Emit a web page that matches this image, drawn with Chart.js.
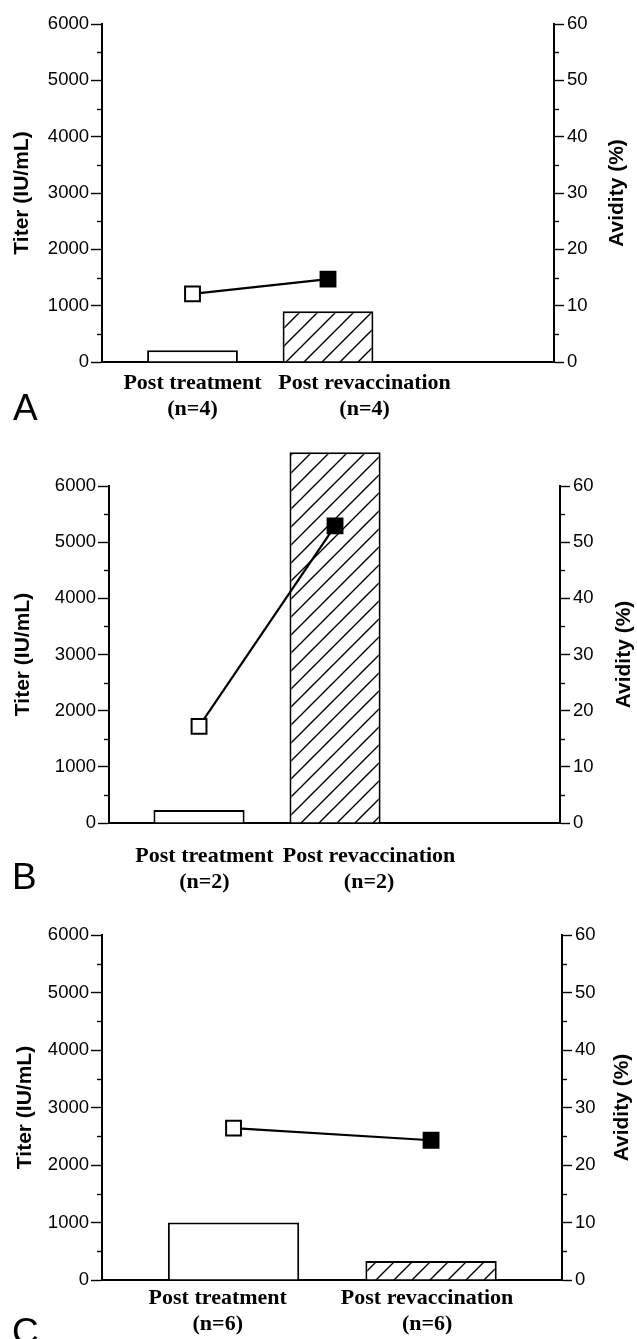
<!DOCTYPE html>
<html>
<head>
<meta charset="utf-8">
<script src="https://cdn.jsdelivr.net/npm/chart.js@4.4.0/dist/chart.umd.min.js"></script>
<style>
  html, body { margin: 0; padding: 0; background: #fff; }
  body { width: 637px; height: 1339px; position: relative; overflow: hidden; }
  .panel { position: absolute; left: 0; }
  .letter { position: absolute; font: 37px "Liberation Sans", Arial, sans-serif; line-height: 1; color: #000; }
</style>
</head>
<body>

<canvas id="chartA" class="panel" width="637" height="440" style="top:0"></canvas>
<canvas id="chartB" class="panel" width="637" height="460" style="top:440px"></canvas>
<canvas id="chartC" class="panel" width="637" height="439" style="top:900px"></canvas>

<div class="letter" style="left:13px;top:389px">A</div>
<div class="letter" style="left:12px;top:858px">B</div>
<div class="letter" style="left:12px;top:1313px">C</div>

<script>
// groups on the x axis
const groups = ['Post treatment', 'Post revaccination'];
const groupX = [1, 2];

// panel A
const nA = [4, 4];
const titerA = [210, 900];
const avidityA = [12.1, 14.7];

// panel B
const nB = [2, 2];
const titerB = [230, 6600];
const avidityB = [17.2, 52.9];

// panel C
const nC = [6, 6];
const titerC = [1000, 330];
const avidityC = [26.4, 24.3];

const titerMax = 6000, titerStep = 1000;
const avidityMax = 60, avidityStep = 10;

// diagonal hatch for the revaccination bars
function makeHatch() {
    const s = 18;
    const c = document.createElement('canvas');
    c.width = s; c.height = s;
    const g = c.getContext('2d');
    g.fillStyle = '#fff';
    g.fillRect(0, 0, s, s);
    g.strokeStyle = '#000';
    g.lineWidth = 1.4;
    g.beginPath();
    g.moveTo(0, s); g.lineTo(s, 0);
    g.moveTo(-2, 2); g.lineTo(2, -2);
    g.moveTo(s - 2, s + 2); g.lineTo(s + 2, s - 2);
    g.stroke();
    return g.createPattern(c, 'repeat');
}
const hatch = makeHatch();

// minor ticks + right-hand title (reads bottom to top)
const axisExtras = {
    id: 'axisExtras',
    afterDraw(chart, args, opts) {
        const ctx = chart.ctx;
        ctx.save();
        ctx.strokeStyle = '#000';
        ctx.lineWidth = 1.4;
        [['y', -1], ['y2', 1]].forEach(([id, dir]) => {
            const s = chart.scales[id];
            const step = s.options.ticks.stepSize;
            const x0 = dir < 0 ? s.right : s.left;
            for (let v = step / 2; v < s.max; v += step) {
                const py = Math.round(s.getPixelForValue(v)) + 0.5;
                ctx.beginPath();
                ctx.moveTo(x0, py);
                ctx.lineTo(x0 + dir * 5, py);
                ctx.stroke();
            }
        });
        const r = chart.scales.y2;
        ctx.translate(r.right - opts.titleOffset, (r.top + r.bottom) / 2);
        ctx.rotate(-Math.PI / 2);
        ctx.fillStyle = '#000';
        ctx.font = 'bold 21px "Liberation Sans", Arial, sans-serif';
        ctx.textAlign = 'center';
        ctx.textBaseline = 'middle';
        ctx.fillText('Avidity (%)', 0, 0);
        ctx.restore();
    }
};

const tickFont = { family: '"Liberation Sans", Arial, sans-serif', size: 18.5 };

function makePanel(id, titer, avidity, n, p) {
    const ctx = document.getElementById(id);
    return new Chart(ctx, {
        type: 'bar',
        data: {
            datasets: [{
                type: 'line',
                data: groupX.map((x, i) => ({ x: x, y: avidity[i] })),
                yAxisID: 'y2',
                borderColor: '#000',
                borderWidth: 2.2,
                tension: 0,
                pointStyle: 'rect',
                pointRadius: 10.5,
                pointBorderWidth: 2,
                pointBorderColor: '#000',
                pointBackgroundColor: ['#fff', '#000'],
                order: 0
            }, {
                type: 'bar',
                data: groupX.map((x, i) => ({ x: x, y: titer[i] })),
                yAxisID: 'y',
                backgroundColor: ['#fff', hatch],
                borderColor: '#000',
                borderWidth: 2,
                categoryPercentage: 1,
                barPercentage: p.barPct,
                clip: false,
                order: 1
            }]
        },
        options: {
            responsive: false,
            animation: false,
            layout: { padding: { top: p.padTop, left: 0, right: 0, bottom: 0 } },
            plugins: {
                legend: { display: false },
                tooltip: { enabled: false },
                axisExtras: { titleOffset: p.rightTitle }
            },
            scales: {
                x: {
                    type: 'linear',
                    min: p.xMin,
                    max: p.xMax,
                    offset: false,
                    border: { color: '#000', width: 2 },
                    grid: { display: true, drawOnChartArea: false, drawTicks: false, offset: false },
                    afterBuildTicks: s => { s.ticks = p.labelAt.map(v => ({ value: v })); },
                    afterFit: s => { s.height = p.xAxisH; },
                    ticks: {
                        autoSkip: false,
                        maxRotation: 0,
                        padding: p.labelPad,
                        color: '#000',
                        font: { family: '"Liberation Serif", "Times New Roman", serif', size: 22, weight: 'bold', lineHeight: 1.2 },
                        callback: (v, i) => [groups[i], '(n=' + n[i] + ')']
                    }
                },
                y: {
                    position: 'left',
                    min: 0,
                    max: titerMax,
                    border: { color: '#000', width: 2 },
                    grid: { drawOnChartArea: false, tickLength: 11, tickColor: '#000', tickWidth: 1.4 },
                    afterFit: s => { s.width = p.leftW; },
                    ticks: { stepSize: titerStep, padding: 2, color: '#000', font: tickFont, callback: v => String(v) },
                    title: {
                        display: true,
                        text: 'Titer (IU/mL)',
                        color: '#000',
                        padding: { top: p.leftTitlePad, bottom: 0 },
                        font: { family: '"Liberation Sans", Arial, sans-serif', size: 21, weight: 'bold' }
                    }
                },
                y2: {
                    position: 'right',
                    min: 0,
                    max: avidityMax,
                    border: { color: '#000', width: 2 },
                    grid: { drawOnChartArea: false, tickLength: 10, tickColor: '#000', tickWidth: 1.4 },
                    afterFit: s => { s.width = p.rightW; },
                    ticks: { stepSize: avidityStep, padding: 3, color: '#000', font: tickFont, callback: v => String(v) }
                }
            }
        },
        plugins: [axisExtras]
    });
}

makePanel('chartA', titerA, avidityA, nA, {
    xMin: 0.332, xMax: 3.668, barPct: 0.67, padTop: 24, xAxisH: 78,
    leftW: 102, rightW: 83, labelPad: 8, labelAt: [1.0, 2.27],
    leftTitlePad: 9.5, rightTitle: 20
});

makePanel('chartB', titerB, avidityB, nB, {
    xMin: 0.338, xMax: 3.654, barPct: 0.67, padTop: 46, xAxisH: 77,
    leftW: 109, rightW: 77, labelPad: 20, labelAt: [1.04, 2.25],
    leftTitlePad: 10.5, rightTitle: 13
});

makePanel('chartC', titerC, avidityC, nC, {
    xMin: 0.334, xMax: 2.663, barPct: 0.665, padTop: 35, xAxisH: 59,
    leftW: 102, rightW: 75, labelPad: 5, labelAt: [0.92, 1.98],
    leftTitlePad: 12.5, rightTitle: 15
});
</script>
</body>
</html>
